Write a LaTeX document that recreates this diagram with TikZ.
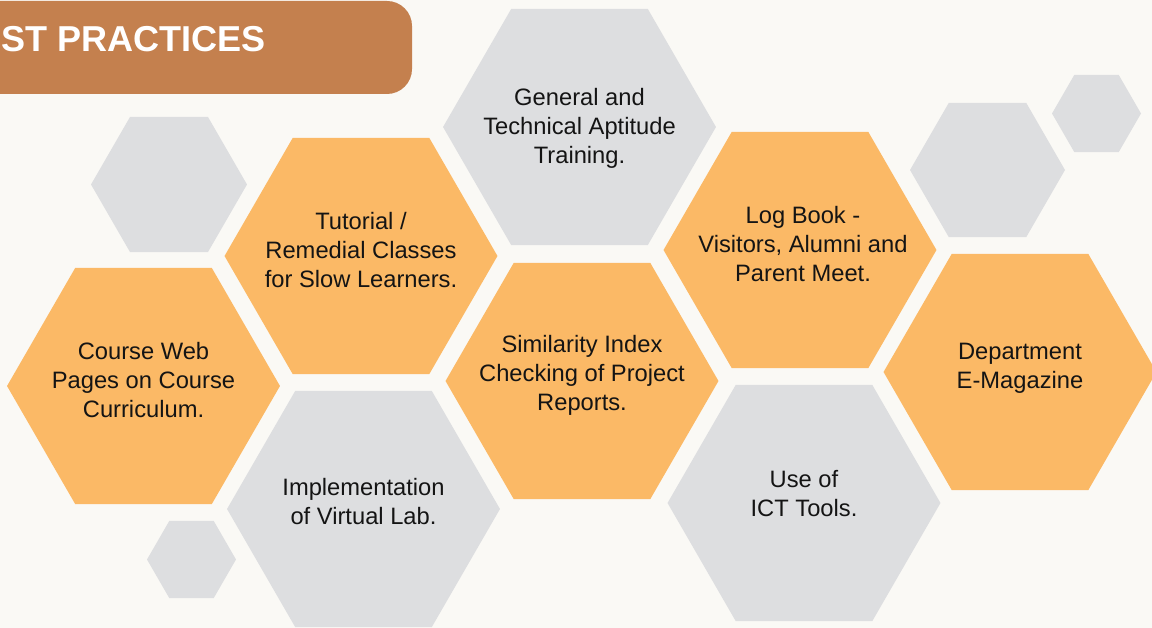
\documentclass[tikz,border=0pt]{standalone}
\usepackage{fontspec}
\setmainfont{Liberation Sans}
\usetikzlibrary{shapes.geometric}

\definecolor{hexorange}{HTML}{FBB966}
\definecolor{hexgray}{HTML}{DDDEE0}
\definecolor{barbrown}{HTML}{C4804E}
\definecolor{bgcream}{HTML}{FAF9F5}

\tikzset{
  hex/.style={regular polygon, regular polygon sides=6, inner sep=0pt, draw=none},
  hexo/.style={hex, fill=hexorange, minimum size=5.46cm},
  hexg/.style={hex, fill=hexgray, minimum size=5.46cm},
  txt/.style={align=center, font=\fontsize{13.5}{16.5}\selectfont, text=black!92},
}

\begin{document}
\begin{tikzpicture}[x=0.02cm, y=-0.02cm]
  \useasboundingbox[fill=bgcream] (0,0) rectangle (1152,628);

  % Title bar
  \fill[barbrown, rounded corners=0.5cm] (-40,1) rectangle (412,94);
  \node[anchor=base west, inner sep=0pt, text=white, font=\fontsize{20.5}{25}\selectfont\bfseries] (title) at (1,52) {ST PRACTICES};

  % Decorative small hexagons
  \node[hex, fill=hexgray, minimum size=3.12cm] (dleft) at (169,184.5) {};
  \node[hex, fill=hexgray, minimum size=1.78cm] (dlow) at (191.5,559.5) {};
  \node[hex, fill=hexgray, minimum size=3.10cm] (dright) at (987.5,170) {};
  \node[hex, fill=hexgray, minimum size=1.78cm] (dtop) at (1096.5,113.5) {};

  % Main hexagons
  \node[hexo] (course) at (143.5,386) {};
  \node[hexo] (tutorial) at (361,256) {};
  \node[hexg] (aptitude) at (579.5,127) {};
  \node[hexo] (similarity) at (582,381) {};
  \node[hexg] (virtual) at (363.5,509) {};
  \node[hexo] (logbook) at (800,250) {};
  \node[hexg] (ict) at (804,503) {};
  \node[hexo] (magazine) at (1020,372) {};

  % Texts
  \node[txt] (tcourse) at ([yshift=0.12cm]course) {Course Web\\Pages on Course\\Curriculum.};
  \node[txt] (ttutorial) at ([yshift=0.12cm]tutorial) {Tutorial /\\Remedial Classes\\for Slow Learners.};
  \node[txt] (taptitude) at ([yshift=-0.02cm]aptitude) {General and\\Technical Aptitude\\Training.};
  \node[txt] (tsimilarity) at ([yshift=0.12cm]similarity) {Similarity Index\\Checking of Project\\Reports.};
  \node[txt] (tvirtual) at ([yshift=0.15cm]virtual) {Implementation\\of Virtual Lab.};
  \node[txt] (tlogbook) at ([xshift=0.06cm,yshift=0.12cm]logbook) {Log Book -\\Visitors, Alumni and\\Parent Meet.};
  \node[txt] (tict) at ([yshift=0.19cm]ict) {Use of\\ICT Tools.};
  \node[txt] (tmagazine) at ([yshift=0.07cm]magazine) {Department\\E-Magazine};
\end{tikzpicture}
\end{document}
